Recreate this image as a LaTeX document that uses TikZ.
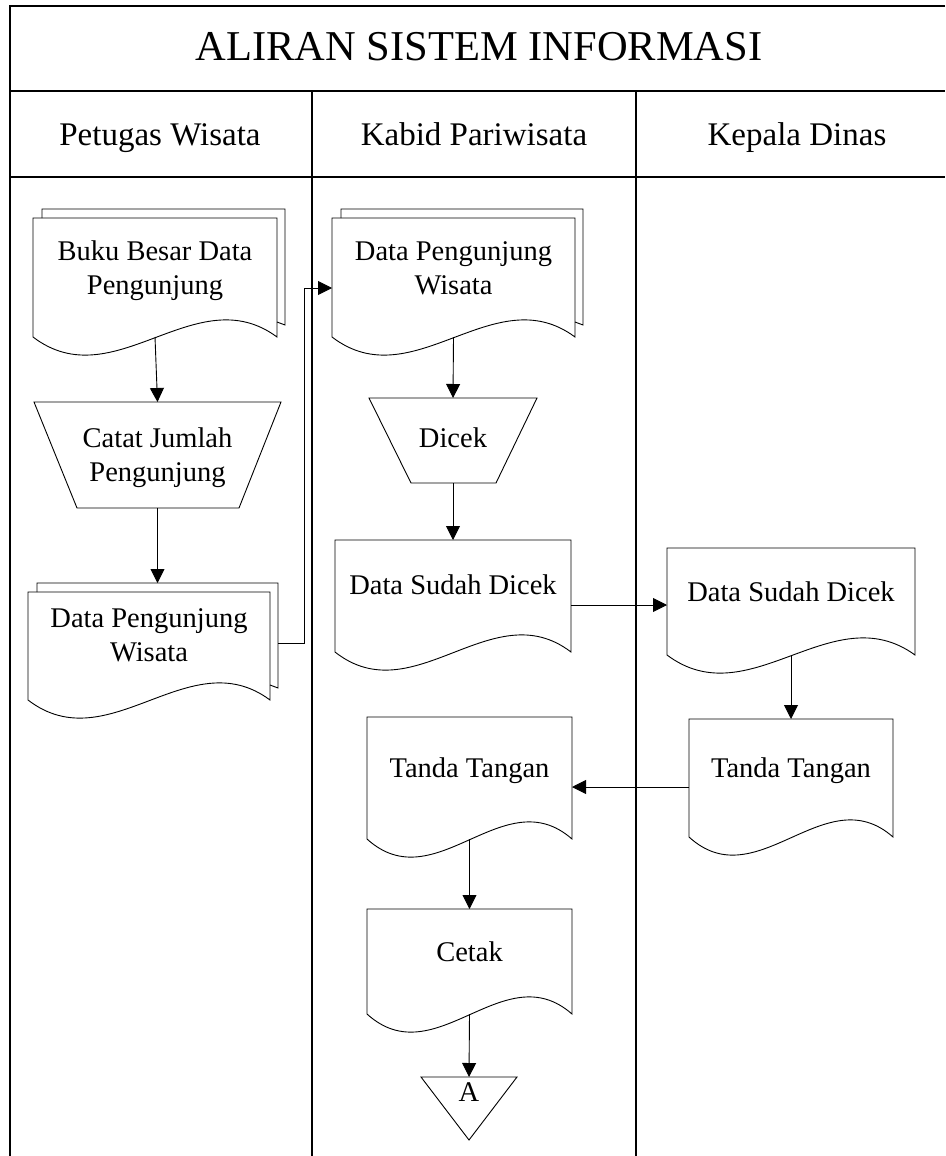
\documentclass[tikz,border=0pt]{standalone}
\usepackage{fontspec}
\setmainfont{Liberation Serif}
\usetikzlibrary{arrows.meta,calc}
\tikzset{
  shp/.style={draw=black, line width=0.9pt},
  frame/.style={draw=black, line width=1.2pt},
  arr/.style={draw=black, line width=0.9pt, -{Triangle[length=14pt,width=14pt]}},
  holder/.style={draw=none, inner sep=0pt, outer sep=0pt},
  body/.style={font=\fontsize{28.5}{34}\selectfont, align=center, inner sep=0pt},
  head/.style={font=\fontsize{33}{40}\selectfont, anchor=base},
  ttl/.style={font=\fontsize{42.5}{50}\selectfont, anchor=base},
}
% name, left, top, right, bottom, text shift, text
\newcommand\mkbox[7]{\node[holder, minimum width={#4-#2}, minimum height={#5-#3},
   label={[body,yshift=#6]center:{#7}}] (#1) at ({(#2+#4)/2},{-(#3+#5)/2}) {};}
\newcommand\docpath[1]{\draw[shp] (#1.south west) -- (#1.north west) -- (#1.north east) -- (#1.south east)
   .. controls ($(#1.south east)!1/3!(#1.south west)+(0,60)$) and ($(#1.south east)!2/3!(#1.south west)+(0,-62)$) .. (#1.south west);}
\newcommand\backdoc[1]{\draw[shp] ($(#1.north west)+(9,0)$) -- ++(0,9) -- ($(#1.north east)+(8,9)$)
   -- ($(#1.south east)+(8,12)$) -- ($(#1.south east)+(0,15)$);
   \coordinate (#1-top) at ($(#1.north)+(8,9)$);}
\newcommand\trappath[3]{\draw[shp] (#1.north west) -- (#1.north east) -- ($(#1.south east)+(-#3,0)$) -- ($(#1.south west)+(#2,0)$) -- cycle;}

\begin{document}
\begin{tikzpicture}[x=1pt,y=1pt]
\useasboundingbox (0,0) rectangle (945,-1156);

% frame and lanes
\draw[frame] (945,-6) -- (10,-6) -- (10,-1156);
\draw[frame] (10,-91) -- (945,-91);
\draw[frame] (10,-177) -- (945,-177);
\draw[frame] (312,-91) -- (312,-1156);
\draw[frame] (636,-91) -- (636,-1156);

\node[ttl] (title) at (479,-61) {ALIRAN SISTEM INFORMASI};
\node[head] (h1) at (160,-145) {Petugas Wisata};
\node[head] (h2) at (474,-145) {Kabid Pariwisata};
\node[head] (h3) at (797,-145) {Kepala Dinas};

% lane 1
\mkbox{buku}{33}{218}{277}{337}{6.5}{Buku Besar Data\\Pengunjung}
\backdoc{buku}\docpath{buku}
\mkbox{catat}{34}{402}{281}{508}{-3}{Catat Jumlah\\Pengunjung}
\trappath{catat}{43}{42}
\mkbox{dpwa}{28}{592}{270}{700}{11}{Data Pengunjung\\Wisata}
\backdoc{dpwa}\docpath{dpwa}

% lane 2
\mkbox{dpwb}{332}{218}{575}{337}{9.5}{Data Pengunjung\\Wisata}
\backdoc{dpwb}\docpath{dpwb}
\mkbox{dicek}{369}{398}{537}{483}{2.5}{Dicek}
\trappath{dicek}{42}{41}
\mkbox{dsdb}{335}{540}{571}{652}{11}{Data Sudah Dicek}
\docpath{dsdb}
\mkbox{ttb}{367}{717}{572}{839}{7}{Tanda Tangan}
\docpath{ttb}
\mkbox{cetak}{367}{909}{572}{1014}{9.5}{Cetak}
\docpath{cetak}
\mkbox{offa}{421}{1077}{517}{1140}{16.5}{A}
\draw[shp] (offa.north west) -- (offa.north east) -- (offa.south) -- cycle;

% lane 3
\mkbox{dsdc}{667}{548}{915}{655}{9.5}{Data Sudah Dicek}
\docpath{dsdc}
\mkbox{ttc}{689}{719}{893}{837}{7}{Tanda Tangan}
\docpath{ttc}

% connectors
\draw[arr] (buku.south) -- (catat.north);
\draw[arr] (catat.south) -- (catat.south |- dpwa-top);
\coordinate (bend) at (304,-643);
\draw[arr] ($(dpwa.east)+(8,3)$) -- (bend) |- ($(dpwb.west)+(0,-10.5)$);
\draw[arr] (dpwb.south) -- (dicek.north);
\draw[arr] (dicek.south) -- (dsdb.north);
\draw[arr] ($(dsdb.east)+(0,-9)$) -- (dsdc.west |- {$(dsdb.east)+(0,-9)$});
\draw[arr] (dsdc.south) -- (ttc.north);
\draw[arr] ($(ttc.west)+(0,-9)$) -- (ttb.east |- {$(ttc.west)+(0,-9)$});
\draw[arr] (ttb.south) -- (cetak.north);
\draw[arr] (cetak.south) -- (offa.north);
\end{tikzpicture}
\end{document}
